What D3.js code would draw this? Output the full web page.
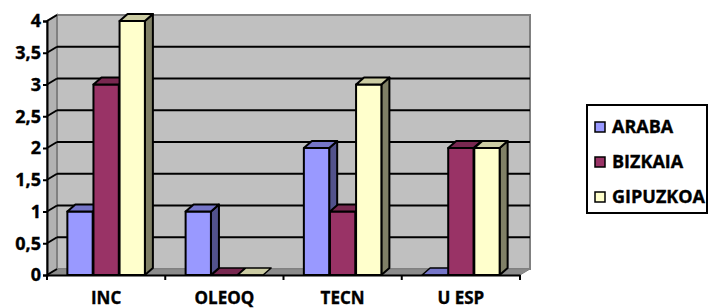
<!DOCTYPE html>
<html>
<head>
<meta charset="utf-8">
<script src="https://cdn.jsdelivr.net/npm/d3@7"></script>
<style>
  html, body { margin: 0; padding: 0; background: #fff; }
  svg { display: block; }
  text { font-family: "Open Sans", "Noto Sans", sans-serif; font-weight: bold; fill: #000; stroke: #000; stroke-width: 0.35px; }
</style>
</head>
<body>
<svg id="chart" width="710" height="308"></svg>
<script>
const categories = ["INC", "OLEOQ", "TECN", "U ESP"];
const seriesNames = ["ARABA", "BIZKAIA", "GIPUZKOA"];
const araba = [1, 1, 2, 0];
const bizkaia = [3, 0, 1, 2];
const gipuzkoa = [4, 0, 3, 2];
const yTicks = [0, 0.5, 1, 1.5, 2, 2.5, 3, 3.5, 4];

const seriesValues = [araba, bizkaia, gipuzkoa];
const colors = {
  ARABA:    { front: "#9999FF", top: "#7575c8", side: "#52528c" },
  BIZKAIA:  { front: "#993366", top: "#782850", side: "#4d1a33" },
  GIPUZKOA: { front: "#FFFFCC", top: "#cccca3", side: "#808066" }
};
const FONT = "'Open Sans', 'Noto Sans', sans-serif";

const svg = d3.select("#chart");
const x = d3.scaleBand().domain(categories).range([47, 520]).paddingInner(0).paddingOuter(0);
const xs = d3.scaleBand().domain(seriesNames).range([0, x.bandwidth()]).paddingInner(0.03).paddingOuter(0.78);
const y = d3.scaleLinear().domain([0, 4]).range([275, 21]);

const wdx = 10, wdy = -6;   // wall depth offset
const bdx = 8, bdy = -7;    // bar depth offset
const x0 = x.range()[0], x1 = x.range()[1];
const fmt = v => String(v).replace(".", ",");

// left wall
svg.append("polygon")
  .attr("points", [[x0, y(0)], [x0, y(4)], [x0 + wdx, y(4) + wdy], [x0 + wdx, y(0) + wdy]].join(" "))
  .attr("fill", "#b2b2b2").attr("stroke", "#808080").attr("stroke-width", 2);
// back wall
svg.append("rect")
  .attr("x", x0 + wdx).attr("y", y(4) + wdy)
  .attr("width", x1 - x0).attr("height", y(0) - y(4))
  .attr("fill", "#c0c0c0").attr("stroke", "#808080").attr("stroke-width", 2);
// floor
svg.append("polygon")
  .attr("points", [[x0, y(0)], [x1, y(0)], [x1 + wdx, y(0) + wdy], [x0 + wdx, y(0) + wdy]].join(" "))
  .attr("fill", "#8c8c8c").attr("stroke", "#808080").attr("stroke-width", 1);

// gridlines
yTicks.filter(v => v > 0 && v < 4).forEach(v => {
  svg.append("line")
    .attr("x1", x0 + wdx).attr("x2", x1 + wdx)
    .attr("y1", y(v) + wdy).attr("y2", y(v) + wdy)
    .attr("stroke", "#000").attr("stroke-width", 2);
});
yTicks.forEach(v => {
  svg.append("line")
    .attr("x1", x0).attr("y1", y(v))
    .attr("x2", x0 + wdx).attr("y2", y(v) + wdy)
    .attr("stroke", "#000").attr("stroke-width", 2);
});

// bars
categories.forEach((c, ci) => {
  seriesNames.forEach((s, si) => {
    const v = seriesValues[si][ci];
    const bx = x(c) + xs(s), w = xs.bandwidth();
    const yv = y(v), yb = y(0);
    const col = colors[s];
    const g = svg.append("g").attr("stroke", "#000").attr("stroke-width", 2).attr("stroke-linejoin", "round");
    if (v > 0) {
      g.append("polygon")
        .attr("points", [[bx + w, yv], [bx + w + bdx, yv + bdy], [bx + w + bdx, yb + bdy], [bx + w, yb]].join(" "))
        .attr("fill", col.side);
      g.append("rect").attr("x", bx).attr("y", yv).attr("width", w).attr("height", yb - yv)
        .attr("fill", col.front);
    }
    g.append("polygon")
      .attr("points", [[bx, yv], [bx + bdx, yv + bdy], [bx + w + bdx, yv + bdy], [bx + w, yv]].join(" "))
      .attr("fill", col.top).attr("stroke-width", v > 0 ? 2 : 1.5);
  });
});

// y axis
const yAxis = d3.axisLeft(y).tickValues(yTicks).tickFormat(fmt).tickSize(4).tickPadding(2);
const gy = svg.append("g").attr("transform", `translate(${x0},0)`).call(yAxis);
gy.select(".domain").attr("stroke", "#000").attr("stroke-width", 2);
gy.selectAll(".tick line").attr("stroke", "#000").attr("stroke-width", 2);
gy.selectAll(".tick text").attr("font-size", 18).attr("font-family", FONT)
  .attr("font-weight", "bold").attr("fill", "#000");

// x axis
const xAxis = d3.axisBottom(x).tickSize(0).tickPadding(17);
const gx = svg.append("g").attr("transform", `translate(0,${y(0)})`).call(xAxis);
gx.select(".domain").attr("stroke", "#000").attr("stroke-width", 2);
gx.selectAll(".tick text").attr("font-size", 17).attr("font-family", FONT)
  .attr("font-weight", "bold").attr("fill", "#000");
// category boundary ticks
const bounds = categories.map(c => x(c)).concat([x1]);
gx.selectAll(".bound").data(bounds).enter().append("line")
  .attr("x1", d => d).attr("x2", d => d).attr("y1", 0).attr("y2", 5)
  .attr("stroke", "#000").attr("stroke-width", 2);

// legend
const lg = svg.append("g");
lg.append("rect").attr("x", 587).attr("y", 105).attr("width", 120).attr("height", 108)
  .attr("fill", "#fff").attr("stroke", "#000").attr("stroke-width", 2);
seriesNames.forEach((s, i) => {
  const cy = 127 + i * 35;
  lg.append("rect").attr("x", 595).attr("y", cy - 5).attr("width", 10).attr("height", 10)
    .attr("fill", colors[s].front).attr("stroke", "#000").attr("stroke-width", 1.5);
  lg.append("text").attr("x", 612).attr("y", cy).attr("dy", "0.36em")
    .attr("font-size", 18).attr("font-family", FONT).text(s);
});
</script>
</body>
</html>
